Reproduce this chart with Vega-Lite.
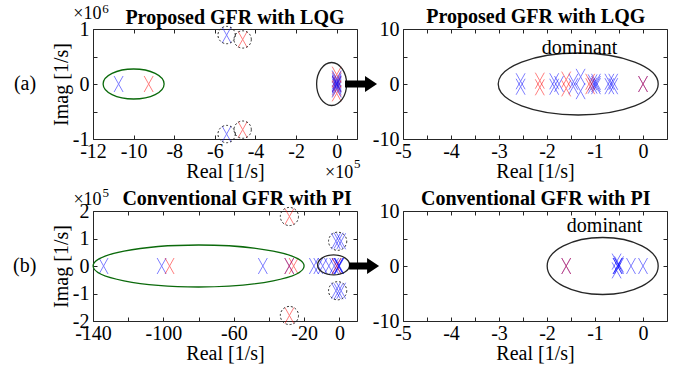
{
  "$schema": "https://vega.github.io/schema/vega-lite/v6.json",
  "padding": {"left": 12, "top": 2, "right": 2, "bottom": 2},
  "bounds": "flush",
  "columns": 2,
  "spacing": {"row": 72, "column": 46},
  "datasets": {
    "poles": [
      {"p": "a1", "re": -10.74, "im": 0, "c": "A"},
      {"p": "a1", "re": -9.26, "im": 0, "c": "B"},
      {"p": "a1", "re": -5.42, "im": 0.89, "c": "A"},
      {"p": "a1", "re": -5.42, "im": -0.91, "c": "A"},
      {"p": "a1", "re": -4.63, "im": 0.81, "c": "B"},
      {"p": "a1", "re": -4.63, "im": -0.83, "c": "B"},
      {"p": "a1", "re": 0, "im": 0.17, "c": "B"},
      {"p": "a1", "re": 0, "im": -0.17, "c": "B"},
      {"p": "a1", "re": 0, "im": 0.08, "c": "B"},
      {"p": "a1", "re": 0, "im": -0.08, "c": "B"},
      {"p": "a1", "re": 0, "im": 0, "c": "B"},
      {"p": "a1", "re": 0, "im": 0.1, "c": "A"},
      {"p": "a1", "re": 0, "im": -0.1, "c": "A"},
      {"p": "a1", "re": 0, "im": 0.05, "c": "A"},
      {"p": "a1", "re": 0, "im": -0.05, "c": "A"},
      {"p": "a1", "re": 0, "im": 0.02, "c": "A"},
      {"p": "a1", "re": 0, "im": -0.02, "c": "A"},
      {"p": "a1", "re": 0, "im": 0, "c": "A"},
      {"p": "a2", "re": -2.55, "im": 0.5, "c": "A"},
      {"p": "a2", "re": -2.55, "im": -0.5, "c": "A"},
      {"p": "a2", "re": -1.85, "im": 0.5, "c": "A"},
      {"p": "a2", "re": -1.85, "im": -0.5, "c": "A"},
      {"p": "a2", "re": -1.75, "im": 0, "c": "A"},
      {"p": "a2", "re": -1.45, "im": 0.4, "c": "A"},
      {"p": "a2", "re": -1.45, "im": -0.4, "c": "A"},
      {"p": "a2", "re": -1.3, "im": 1.3, "c": "A"},
      {"p": "a2", "re": -1.3, "im": -1.3, "c": "A"},
      {"p": "a2", "re": -1.05, "im": 0.3, "c": "A"},
      {"p": "a2", "re": -1.05, "im": -0.3, "c": "A"},
      {"p": "a2", "re": -0.98, "im": 0, "c": "A"},
      {"p": "a2", "re": -0.98, "im": 0.4, "c": "A"},
      {"p": "a2", "re": -0.98, "im": -0.4, "c": "A"},
      {"p": "a2", "re": -0.7, "im": 0.4, "c": "A"},
      {"p": "a2", "re": -0.7, "im": -0.4, "c": "A"},
      {"p": "a2", "re": -0.62, "im": 0.4, "c": "A"},
      {"p": "a2", "re": -0.62, "im": -0.4, "c": "A"},
      {"p": "a2", "re": 0, "im": 0, "c": "A"},
      {"p": "a2", "re": -2.15, "im": 0.6, "c": "B"},
      {"p": "a2", "re": -2.15, "im": -0.6, "c": "B"},
      {"p": "a2", "re": -1.6, "im": 0.8, "c": "B"},
      {"p": "a2", "re": -1.6, "im": -0.8, "c": "B"},
      {"p": "a2", "re": -1.1, "im": 0.4, "c": "B"},
      {"p": "a2", "re": -1.1, "im": -0.4, "c": "B"},
      {"p": "a2", "re": 0, "im": 0, "c": "B"},
      {"p": "b1", "re": -134, "im": 0, "c": "A"},
      {"p": "b1", "re": -101, "im": 0, "c": "A"},
      {"p": "b1", "re": -43.5, "im": 0, "c": "A"},
      {"p": "b1", "re": -28.5, "im": 0, "c": "A"},
      {"p": "b1", "re": -14.5, "im": 0, "c": "A"},
      {"p": "b1", "re": -12, "im": 0, "c": "A"},
      {"p": "b1", "re": -9.5, "im": 0, "c": "A"},
      {"p": "b1", "re": -6, "im": 0, "c": "A"},
      {"p": "b1", "re": -3, "im": 0, "c": "A"},
      {"p": "b1", "re": -1.6, "im": 0, "c": "A"},
      {"p": "b1", "re": -0.5, "im": 0, "c": "A"},
      {"p": "b1", "re": -0.5, "im": 0, "c": "A"},
      {"p": "b1", "re": -0.2, "im": 0, "c": "A"},
      {"p": "b1", "re": 0, "im": 0, "c": "A"},
      {"p": "b1", "re": -2, "im": 0.9, "c": "A"},
      {"p": "b1", "re": -2, "im": -0.9, "c": "A"},
      {"p": "b1", "re": -0.5, "im": 0.92, "c": "A"},
      {"p": "b1", "re": -0.5, "im": -0.92, "c": "A"},
      {"p": "b1", "re": 1, "im": 0.9, "c": "A"},
      {"p": "b1", "re": 1, "im": -0.9, "c": "A"},
      {"p": "b1", "re": -96.5, "im": 0, "c": "B"},
      {"p": "b1", "re": -28.5, "im": 0, "c": "B"},
      {"p": "b1", "re": -26, "im": 0, "c": "B"},
      {"p": "b1", "re": -28.4, "im": 1.8, "c": "B"},
      {"p": "b1", "re": -28.4, "im": -1.8, "c": "B"},
      {"p": "b1", "re": -1.6, "im": 0, "c": "B"},
      {"p": "b2", "re": -1.6, "im": 0, "c": "A"},
      {"p": "b2", "re": -0.53, "im": 0, "c": "A"},
      {"p": "b2", "re": -0.53, "im": 0, "c": "A"},
      {"p": "b2", "re": -0.5, "im": 0, "c": "A"},
      {"p": "b2", "re": -0.55, "im": 0.8, "c": "A"},
      {"p": "b2", "re": -0.55, "im": -0.8, "c": "A"},
      {"p": "b2", "re": -0.5, "im": 0.3, "c": "A"},
      {"p": "b2", "re": -0.25, "im": 0, "c": "A"},
      {"p": "b2", "re": 0, "im": 0, "c": "A"},
      {"p": "b2", "re": -1.6, "im": 0, "c": "B"}
    ]
  },
  "concat": [
    {
      "width": 264, "height": 110,
      "resolve": {"axis": {"x": "independent", "y": "independent"}},
      "layer": [
        {
          "data": {"name": "poles"},
          "transform": [{"filter": "datum.p === 'a1'"}],
          "mark": {"type": "point", "shape": "M-4.5,-8L4.5,8M-4.5,8L4.5,-8", "size": 4, "filled": false, "strokeWidth": 1, "opacity": 0.5},
          "encoding": {
            "x": {"field": "re", "type": "quantitative", "scale": {"domain": [-12, 1], "nice": false, "zero": false}, "axis": {"orient": "bottom", "values": [-12, -10, -8, -6, -4, -2, 0], "labelExpr": "'' + datum.value", "title": "Real [1/s]"}},
            "y": {"field": "im", "type": "quantitative", "scale": {"domain": [-1, 1], "nice": false, "zero": false}, "axis": {"orient": "left", "values": [-1, -0.5, 0, 0.5, 1], "labelExpr": "datum.value % 1 === 0 ? '' + datum.value : ''", "title": "Imag [1/s]"}},
            "color": {"field": "c", "type": "nominal", "scale": {"domain": ["A", "B"], "range": ["#0000ff", "#ff0000"]}, "legend": null}
          }
        },
        {
          "data": {"values": [{"re": -0.25, "im": 0}]},
          "mark": {"type": "point", "shape": "M-15,0A15,21.5,0,1,1,15,0A15,21.5,0,1,1,-15,0Z", "size": 4, "filled": false, "stroke": "#262626", "strokeWidth": 1.3, "opacity": 1},
          "encoding": {
            "x": {"field": "re", "type": "quantitative", "scale": {"domain": [-12, 1], "nice": false, "zero": false}, "axis": {"orient": "top", "values": [-12, -10, -8, -6, -4, -2, 0], "labels": false, "title": null}},
            "y": {"field": "im", "type": "quantitative", "scale": {"domain": [-1, 1], "nice": false, "zero": false}, "axis": {"orient": "right", "values": [-1, -0.5, 0, 0.5, 1], "labels": false, "title": null}}
          }
        },
        {
          "data": {"values": [{"re": -10.0, "im": 0}]},
          "mark": {"type": "point", "shape": "M-30.5,0A30.5,15,0,1,1,30.5,0A30.5,15,0,1,1,-30.5,0Z", "size": 4, "filled": false, "stroke": "#0b6a0b", "strokeWidth": 1.3, "opacity": 1},
          "encoding": {
            "x": {"field": "re", "type": "quantitative", "scale": {"domain": [-12, 1], "nice": false, "zero": false}, "axis": null},
            "y": {"field": "im", "type": "quantitative", "scale": {"domain": [-1, 1], "nice": false, "zero": false}, "axis": null}
          }
        },
        {
          "data": {"values": [{"re": -5.42, "im": 0.89}, {"re": -5.42, "im": -0.91}, {"re": -4.63, "im": 0.81}, {"re": -4.63, "im": -0.83}]},
          "mark": {"type": "point", "shape": "circle", "size": 300, "filled": false, "stroke": "#262626", "strokeWidth": 1, "strokeDash": [2, 2], "opacity": 1},
          "encoding": {
            "x": {"field": "re", "type": "quantitative", "scale": {"domain": [-12, 1], "nice": false, "zero": false}, "axis": null},
            "y": {"field": "im", "type": "quantitative", "scale": {"domain": [-1, 1], "nice": false, "zero": false}, "axis": null}
          }
        },
        {
          "data": {"values": [{"re": 0.41, "im": 0}]},
          "mark": {"type": "point", "shape": "M0,-3.5L20,-3.5L20,-8L32,0L20,8L20,3.5L0,3.5Z", "size": 4, "filled": true, "color": "#000", "strokeWidth": 0, "opacity": 1, "clip": false},
          "encoding": {
            "x": {"field": "re", "type": "quantitative", "scale": {"domain": [-12, 1], "nice": false, "zero": false}, "axis": null},
            "y": {"field": "im", "type": "quantitative", "scale": {"domain": [-1, 1], "nice": false, "zero": false}, "axis": null}
          }
        },
        {
          "data": {"values": [{"re": -5.01, "im": 1.1, "t": "Proposed GFR with LQG"}]},
          "mark": {"type": "text", "fontSize": 20, "fontWeight": "bold", "align": "center", "baseline": "alphabetic", "color": "#000", "clip": false},
          "encoding": {
            "x": {"field": "re", "type": "quantitative", "scale": {"domain": [-12, 1], "nice": false, "zero": false}, "axis": null},
            "y": {"field": "im", "type": "quantitative", "scale": {"domain": [-1, 1], "nice": false, "zero": false}, "axis": null},
            "text": {"field": "t"}
          }
        },
        {
          "data": {"values": [{"re": -15.35, "im": 0, "t": "(a)"}]},
          "mark": {"type": "text", "fontSize": 20, "align": "center", "baseline": "middle", "color": "#000", "clip": false},
          "encoding": {
            "x": {"field": "re", "type": "quantitative", "scale": {"domain": [-12, 1], "nice": false, "zero": false}, "axis": null},
            "y": {"field": "im", "type": "quantitative", "scale": {"domain": [-1, 1], "nice": false, "zero": false}, "axis": null},
            "text": {"field": "t"}
          }
        },
        {
          "data": {"values": [{"re": -12.97, "im": 1.27, "t": "×10"}, {"re": -0.57, "im": -1.62, "t": "×10"}]},
          "mark": {"type": "text", "fontSize": 18, "align": "left", "baseline": "middle", "color": "#000", "clip": false},
          "encoding": {
            "x": {"field": "re", "type": "quantitative", "scale": {"domain": [-12, 1], "nice": false, "zero": false}, "axis": null},
            "y": {"field": "im", "type": "quantitative", "scale": {"domain": [-1, 1], "nice": false, "zero": false}, "axis": null},
            "text": {"field": "t"}
          }
        },
        {
          "data": {"values": [{"re": -11.55, "im": 1.36, "t": "6"}, {"re": 0.85, "im": -1.45, "t": "5"}]},
          "mark": {"type": "text", "fontSize": 13, "align": "left", "baseline": "middle", "color": "#000", "clip": false},
          "encoding": {
            "x": {"field": "re", "type": "quantitative", "scale": {"domain": [-12, 1], "nice": false, "zero": false}, "axis": null},
            "y": {"field": "im", "type": "quantitative", "scale": {"domain": [-1, 1], "nice": false, "zero": false}, "axis": null},
            "text": {"field": "t"}
          }
        }
      ]
    },
    {
      "width": 264, "height": 110,
      "resolve": {"axis": {"x": "independent", "y": "independent"}},
      "layer": [
        {
          "data": {"name": "poles"},
          "transform": [{"filter": "datum.p === 'a2'"}],
          "mark": {"type": "point", "shape": "M-4.5,-8L4.5,8M-4.5,8L4.5,-8", "size": 4, "filled": false, "strokeWidth": 1, "opacity": 0.5},
          "encoding": {
            "x": {"field": "re", "type": "quantitative", "scale": {"domain": [-5, 0.5], "nice": false, "zero": false}, "axis": {"orient": "bottom", "values": [-5, -4.5, -4, -3.5, -3, -2.5, -2, -1.5, -1, -0.5, 0], "labelExpr": "datum.value % 1 === 0 ? '' + datum.value : ''", "title": "Real [1/s]"}},
            "y": {"field": "im", "type": "quantitative", "scale": {"domain": [-10, 10], "nice": false, "zero": false}, "axis": {"orient": "left", "values": [-10, -5, 0, 5, 10], "labelExpr": "datum.value % 10 === 0 ? '' + datum.value : ''", "title": null}},
            "color": {"field": "c", "type": "nominal", "scale": {"domain": ["A", "B"], "range": ["#0000ff", "#ff0000"]}, "legend": null}
          }
        },
        {
          "data": {"values": [{"re": -1.35, "im": 0}]},
          "mark": {"type": "point", "shape": "M-80,0A80,31,0,1,1,80,0A80,31,0,1,1,-80,0Z", "size": 4, "filled": false, "stroke": "#262626", "strokeWidth": 1.3, "opacity": 1},
          "encoding": {
            "x": {"field": "re", "type": "quantitative", "scale": {"domain": [-5, 0.5], "nice": false, "zero": false}, "axis": {"orient": "top", "values": [-5, -4.5, -4, -3.5, -3, -2.5, -2, -1.5, -1, -0.5, 0], "labels": false, "title": null}},
            "y": {"field": "im", "type": "quantitative", "scale": {"domain": [-10, 10], "nice": false, "zero": false}, "axis": {"orient": "right", "values": [-10, -5, 0, 5, 10], "labels": false, "title": null}}
          }
        },
        {
          "data": {"values": [{"re": -1.32, "im": 5.4, "t": "dominant"}]},
          "mark": {"type": "text", "fontSize": 20, "align": "center", "baseline": "alphabetic", "color": "#000"},
          "encoding": {
            "x": {"field": "re", "type": "quantitative", "scale": {"domain": [-5, 0.5], "nice": false, "zero": false}, "axis": null},
            "y": {"field": "im", "type": "quantitative", "scale": {"domain": [-10, 10], "nice": false, "zero": false}, "axis": null},
            "text": {"field": "t"}
          }
        },
        {
          "data": {"values": [{"re": -2.235, "im": 11.05, "t": "Proposed GFR with LQG"}]},
          "mark": {"type": "text", "fontSize": 20, "fontWeight": "bold", "align": "center", "baseline": "alphabetic", "color": "#000", "clip": false},
          "encoding": {
            "x": {"field": "re", "type": "quantitative", "scale": {"domain": [-5, 0.5], "nice": false, "zero": false}, "axis": null},
            "y": {"field": "im", "type": "quantitative", "scale": {"domain": [-10, 10], "nice": false, "zero": false}, "axis": null},
            "text": {"field": "t"}
          }
        }
      ]
    },
    {
      "width": 264, "height": 110,
      "resolve": {"axis": {"x": "independent", "y": "independent"}},
      "layer": [
        {
          "data": {"name": "poles"},
          "transform": [{"filter": "datum.p === 'b1'"}],
          "mark": {"type": "point", "shape": "M-4.5,-8L4.5,8M-4.5,8L4.5,-8", "size": 4, "filled": false, "strokeWidth": 1, "opacity": 0.5},
          "encoding": {
            "x": {"field": "re", "type": "quantitative", "scale": {"domain": [-140, 10], "nice": false, "zero": false}, "axis": {"orient": "bottom", "values": [-140, -120, -100, -80, -60, -40, -20, 0], "labelExpr": "((datum.value + 140) % 40 === 0 || datum.value === 0) ? '' + datum.value : ''", "title": "Real [1/s]"}},
            "y": {"field": "im", "type": "quantitative", "scale": {"domain": [-2, 2], "nice": false, "zero": false}, "axis": {"orient": "left", "values": [-2, -1, 0, 1, 2], "labelExpr": "'' + datum.value", "title": "Imag [1/s]"}},
            "color": {"field": "c", "type": "nominal", "scale": {"domain": ["A", "B"], "range": ["#0000ff", "#ff0000"]}, "legend": null}
          }
        },
        {
          "data": {"values": [{"re": -3.3, "im": 0.04}]},
          "mark": {"type": "point", "shape": "M-16,0A16,10,0,1,1,16,0A16,10,0,1,1,-16,0Z", "size": 4, "filled": false, "stroke": "#262626", "strokeWidth": 1.3, "opacity": 1},
          "encoding": {
            "x": {"field": "re", "type": "quantitative", "scale": {"domain": [-140, 10], "nice": false, "zero": false}, "axis": {"orient": "top", "values": [-140, -120, -100, -80, -60, -40, -20, 0], "labels": false, "title": null}},
            "y": {"field": "im", "type": "quantitative", "scale": {"domain": [-2, 2], "nice": false, "zero": false}, "axis": {"orient": "right", "values": [-2, -1, 0, 1, 2], "labels": false, "title": null}}
          }
        },
        {
          "data": {"values": [{"re": -80, "im": 0}]},
          "mark": {"type": "point", "shape": "M-105.5,0A105.5,21,0,1,1,105.5,0A105.5,21,0,1,1,-105.5,0Z", "size": 4, "filled": false, "stroke": "#0b6a0b", "strokeWidth": 1.3, "opacity": 1},
          "encoding": {
            "x": {"field": "re", "type": "quantitative", "scale": {"domain": [-140, 10], "nice": false, "zero": false}, "axis": null},
            "y": {"field": "im", "type": "quantitative", "scale": {"domain": [-2, 2], "nice": false, "zero": false}, "axis": null}
          }
        },
        {
          "data": {"values": [{"re": -28.4, "im": 1.8}, {"re": -28.4, "im": -1.8}, {"re": -1, "im": 0.9}, {"re": -1, "im": -0.9}]},
          "mark": {"type": "point", "shape": "circle", "size": 330, "filled": false, "stroke": "#262626", "strokeWidth": 1, "strokeDash": [2, 2], "opacity": 1},
          "encoding": {
            "x": {"field": "re", "type": "quantitative", "scale": {"domain": [-140, 10], "nice": false, "zero": false}, "axis": null},
            "y": {"field": "im", "type": "quantitative", "scale": {"domain": [-2, 2], "nice": false, "zero": false}, "axis": null}
          }
        },
        {
          "data": {"values": [{"re": 5.5, "im": 0}]},
          "mark": {"type": "point", "shape": "M0,-3.5L18,-3.5L18,-8L30,0L18,8L18,3.5L0,3.5Z", "size": 4, "filled": true, "color": "#000", "strokeWidth": 0, "opacity": 1, "clip": false},
          "encoding": {
            "x": {"field": "re", "type": "quantitative", "scale": {"domain": [-140, 10], "nice": false, "zero": false}, "axis": null},
            "y": {"field": "im", "type": "quantitative", "scale": {"domain": [-2, 2], "nice": false, "zero": false}, "axis": null}
          }
        },
        {
          "data": {"values": [{"re": -58.1, "im": 2.22, "t": "Conventional GFR with PI"}]},
          "mark": {"type": "text", "fontSize": 20, "fontWeight": "bold", "align": "center", "baseline": "alphabetic", "color": "#000", "clip": false},
          "encoding": {
            "x": {"field": "re", "type": "quantitative", "scale": {"domain": [-140, 10], "nice": false, "zero": false}, "axis": null},
            "y": {"field": "im", "type": "quantitative", "scale": {"domain": [-2, 2], "nice": false, "zero": false}, "axis": null},
            "text": {"field": "t"}
          }
        },
        {
          "data": {"values": [{"re": -178.8, "im": 0, "t": "(b)"}]},
          "mark": {"type": "text", "fontSize": 20, "align": "center", "baseline": "middle", "color": "#000", "clip": false},
          "encoding": {
            "x": {"field": "re", "type": "quantitative", "scale": {"domain": [-140, 10], "nice": false, "zero": false}, "axis": null},
            "y": {"field": "im", "type": "quantitative", "scale": {"domain": [-2, 2], "nice": false, "zero": false}, "axis": null},
            "text": {"field": "t"}
          }
        },
        {
          "data": {"values": [{"re": -151.1, "im": 2.41, "t": "×10"}]},
          "mark": {"type": "text", "fontSize": 18, "align": "left", "baseline": "middle", "color": "#000", "clip": false},
          "encoding": {
            "x": {"field": "re", "type": "quantitative", "scale": {"domain": [-140, 10], "nice": false, "zero": false}, "axis": null},
            "y": {"field": "im", "type": "quantitative", "scale": {"domain": [-2, 2], "nice": false, "zero": false}, "axis": null},
            "text": {"field": "t"}
          }
        },
        {
          "data": {"values": [{"re": -134.6, "im": 2.65, "t": "5"}]},
          "mark": {"type": "text", "fontSize": 13, "align": "left", "baseline": "middle", "color": "#000", "clip": false},
          "encoding": {
            "x": {"field": "re", "type": "quantitative", "scale": {"domain": [-140, 10], "nice": false, "zero": false}, "axis": null},
            "y": {"field": "im", "type": "quantitative", "scale": {"domain": [-2, 2], "nice": false, "zero": false}, "axis": null},
            "text": {"field": "t"}
          }
        }
      ]
    },
    {
      "width": 264, "height": 110,
      "resolve": {"axis": {"x": "independent", "y": "independent"}},
      "layer": [
        {
          "data": {"name": "poles"},
          "transform": [{"filter": "datum.p === 'b2'"}],
          "mark": {"type": "point", "shape": "M-4.5,-8L4.5,8M-4.5,8L4.5,-8", "size": 4, "filled": false, "strokeWidth": 1, "opacity": 0.5},
          "encoding": {
            "x": {"field": "re", "type": "quantitative", "scale": {"domain": [-5, 0.5], "nice": false, "zero": false}, "axis": {"orient": "bottom", "values": [-5, -4.5, -4, -3.5, -3, -2.5, -2, -1.5, -1, -0.5, 0], "labelExpr": "datum.value % 1 === 0 ? '' + datum.value : ''", "title": "Real [1/s]"}},
            "y": {"field": "im", "type": "quantitative", "scale": {"domain": [-10, 10], "nice": false, "zero": false}, "axis": {"orient": "left", "values": [-10, -5, 0, 5, 10], "labelExpr": "datum.value % 10 === 0 ? '' + datum.value : ''", "title": null}},
            "color": {"field": "c", "type": "nominal", "scale": {"domain": ["A", "B"], "range": ["#0000ff", "#ff0000"]}, "legend": null}
          }
        },
        {
          "data": {"values": [{"re": -0.84, "im": 0}]},
          "mark": {"type": "point", "shape": "M-55.5,0A55.5,28.5,0,1,1,55.5,0A55.5,28.5,0,1,1,-55.5,0Z", "size": 4, "filled": false, "stroke": "#262626", "strokeWidth": 1.3, "opacity": 1},
          "encoding": {
            "x": {"field": "re", "type": "quantitative", "scale": {"domain": [-5, 0.5], "nice": false, "zero": false}, "axis": {"orient": "top", "values": [-5, -4.5, -4, -3.5, -3, -2.5, -2, -1.5, -1, -0.5, 0], "labels": false, "title": null}},
            "y": {"field": "im", "type": "quantitative", "scale": {"domain": [-10, 10], "nice": false, "zero": false}, "axis": {"orient": "right", "values": [-10, -5, 0, 5, 10], "labels": false, "title": null}}
          }
        },
        {
          "data": {"values": [{"re": -0.8, "im": 6.2, "t": "dominant"}]},
          "mark": {"type": "text", "fontSize": 20, "align": "center", "baseline": "alphabetic", "color": "#000"},
          "encoding": {
            "x": {"field": "re", "type": "quantitative", "scale": {"domain": [-5, 0.5], "nice": false, "zero": false}, "axis": null},
            "y": {"field": "im", "type": "quantitative", "scale": {"domain": [-10, 10], "nice": false, "zero": false}, "axis": null},
            "text": {"field": "t"}
          }
        },
        {
          "data": {"values": [{"re": -2.235, "im": 11.18, "t": "Conventional GFR with PI"}]},
          "mark": {"type": "text", "fontSize": 20, "fontWeight": "bold", "align": "center", "baseline": "alphabetic", "color": "#000", "clip": false},
          "encoding": {
            "x": {"field": "re", "type": "quantitative", "scale": {"domain": [-5, 0.5], "nice": false, "zero": false}, "axis": null},
            "y": {"field": "im", "type": "quantitative", "scale": {"domain": [-10, 10], "nice": false, "zero": false}, "axis": null},
            "text": {"field": "t"}
          }
        }
      ]
    }
  ],
  "config": {
    "font": "Liberation Serif",
    "background": "white",
    "view": {"stroke": "#262626", "strokeWidth": 1},
    "axis": {"domain": false, "grid": false, "ticks": true, "tickSize": -4, "tickColor": "#262626", "tickWidth": 1, "labelFont": "Liberation Serif", "labelFontSize": 20, "labelColor": "#000", "labelFlush": false, "labelOverlap": false, "titleFont": "Liberation Serif", "titleFontSize": 20, "titleFontWeight": "normal", "titleColor": "#000"},
    "axisX": {"labelPadding": 6, "titlePadding": 0},
    "axisY": {"labelPadding": 8, "titlePadding": 1},
    "text": {"font": "Liberation Serif"}
  }
}
